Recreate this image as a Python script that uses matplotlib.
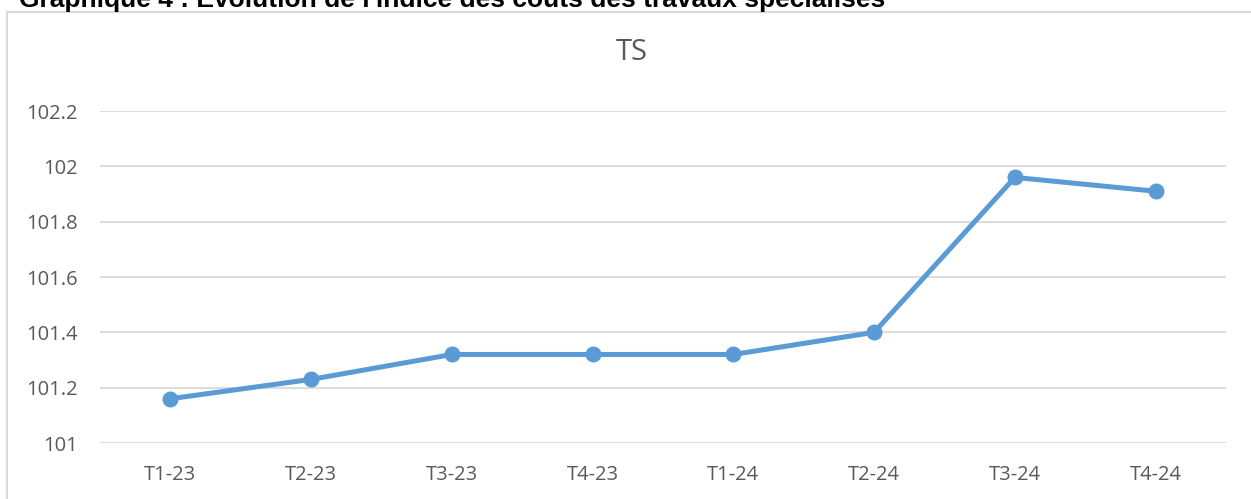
import matplotlib.pyplot as plt
from matplotlib.patches import Rectangle

quarters = ["T1-23", "T2-23", "T3-23", "T4-23", "T1-24", "T2-24", "T3-24", "T4-24"]
ts_index = [101.16, 101.23, 101.32, 101.32, 101.32, 101.40, 101.96, 101.91]
y_ticks = [101, 101.2, 101.4, 101.6, 101.8, 102, 102.2]
y_labels = ["101", "101.2", "101.4", "101.6", "101.8", "102", "102.2"]

fig = plt.figure(figsize=(12.51, 4.99), dpi=100)

# outer chart frame (clipped at bottom/right like the source)
fig.patches.append(Rectangle((7 / 1251, -0.05), 1.0, (499 - 12) / 499 + 0.05,
                             transform=fig.transFigure, fill=False,
                             edgecolor="#d9d9d9", linewidth=1.5))

fig.text(19 / 1251, 1.0 - 7 / 499, "Graphique 4 : Évolution de l'indice des coûts des travaux spécialisés",
         fontsize=19, fontweight="bold", family="Liberation Sans", va="baseline", ha="left")

ax = fig.add_axes([100 / 1251, (499 - 443) / 499, 1126 / 1251, (443 - 111) / 499])
ax.plot(range(len(quarters)), ts_index, color="#5b9bd5", linewidth=3.6,
        marker="o", markersize=10.5, solid_capstyle="round", zorder=3)

ax.set_xlim(-0.5, len(quarters) - 0.5)
ax.set_ylim(101, 102.2)
ax.set_xticks(range(len(quarters)))
ax.set_xticklabels(quarters)
ax.set_yticks(y_ticks)
ax.set_yticklabels(y_labels)
ax.grid(axis="y", color="#d9d9d9", linewidth=1.3)
ax.set_axisbelow(True)
for s in ax.spines.values():
    s.set_visible(False)
ax.tick_params(length=0, labelsize=14.5, labelcolor="#595959", pad=16)
ax.tick_params(axis="y", pad=16)
for lbl in ax.get_xticklabels() + ax.get_yticklabels():
    lbl.set_family("Open Sans")

fig.text(632 / 1251, (499 - 53) / 499, "TS", fontsize=21, color="#595959",
         family="Open Sans", ha="center", va="center")

fig.savefig("out.png", dpi=100)
